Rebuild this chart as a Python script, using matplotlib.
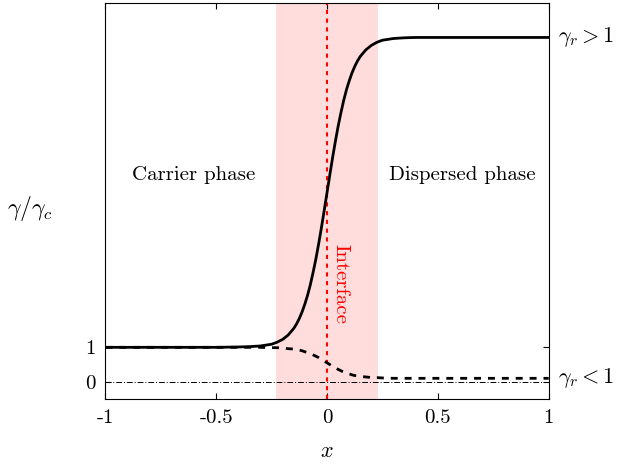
import matplotlib.pyplot as plt

plt.rcParams['font.family'] = 'cmr10'
plt.rcParams['mathtext.fontset'] = 'cm'
plt.rcParams['axes.formatter.use_mathtext'] = True

# profiles (gamma_r = 10 and gamma_r = 0.1)
x = [-1, -0.8, -0.6, -0.5, -0.4, -0.35, -0.3, -0.25, -0.225, -0.2, -0.175,
     -0.15, -0.1375, -0.125, -0.1125, -0.1, -0.0875, -0.075, -0.0625, -0.05,
     -0.0375, -0.025, -0.0125, 0, 0.0125, 0.025, 0.0375, 0.05, 0.0625, 0.075,
     0.0875, 0.1, 0.1125, 0.125, 0.1375, 0.15, 0.175, 0.2, 0.225, 0.25, 0.3,
     0.35, 0.4, 0.5, 0.6, 0.8, 1]
gamma_high = [1, 1, 1, 1, 1.01, 1.02, 1.04, 1.09, 1.15, 1.23, 1.36,
              1.55, 1.68, 1.84, 2.03, 2.26, 2.52, 2.83, 3.19, 3.58,
              4.02, 4.49, 4.99, 5.5, 6.01, 6.51, 6.98, 7.42, 7.81, 8.17,
              8.48, 8.74, 8.97, 9.16, 9.32, 9.45, 9.64, 9.77, 9.86, 9.92, 9.97,
              9.99, 10, 10, 10, 10, 10]
gamma_low = [1, 1, 1, 1, 1.0, 1.0, 1.0, 0.99, 0.99, 0.98, 0.96,
             0.95, 0.93, 0.92, 0.90, 0.87, 0.85, 0.82, 0.78, 0.74,
             0.70, 0.65, 0.60, 0.55, 0.50, 0.45, 0.40, 0.36, 0.32, 0.28,
             0.25, 0.23, 0.20, 0.18, 0.17, 0.15, 0.14, 0.12, 0.12, 0.11, 0.10,
             0.10, 0.10, 0.1, 0.1, 0.1, 0.1]

interface_half = 0.23
xticks = [-1, -0.5, 0, 0.5, 1]
xtick_labels = ['-1', '-0.5', '0', '0.5', '1']
yticks = [0, 1]

fig = plt.figure(figsize=(6.2, 4.65), dpi=100)
ax = fig.add_axes([0.170, 0.142, 0.715, 0.8515])

ax.axvspan(-interface_half, interface_half, color='#ffdddd', lw=0, zorder=0)
ax.axhline(0, color='black', lw=0.7, ls='-.', dashes=(6, 2, 1, 2))
ax.axvline(0, color='red', lw=1.5, ls=(0, (2, 2.2)))
ax.plot(x, gamma_high, color='black', lw=2)
ax.plot(x, gamma_low, color='black', lw=2, ls=(0, (2.5, 2.5)))

ax.set_xlim(-1, 1)
ax.set_ylim(-0.5, 11)
ax.set_xticks(xticks)
ax.set_xticklabels(xtick_labels)
ax.set_yticks(yticks)
ax.set_yticklabels([str(t) for t in yticks])
ax.tick_params(direction='in', top=True, right=True, length=4, labelsize=15, pad=7)

ax.set_xlabel('$x$', fontsize=16, va='center')
ax.xaxis.set_label_coords(0.5, -0.133)
ax.set_ylabel(r'$\gamma/\gamma_c$', fontsize=17, rotation=0, va='center')
ax.yaxis.set_label_coords(-0.17, 0.48)

ax.text(-0.6, 6.0, 'Carrier phase', fontsize=15, ha='center', va='center')
ax.text(0.61, 6.0, 'Dispersed phase', fontsize=15, ha='center', va='center')
ax.text(0.062, 2.85, 'Interface', fontsize=15, color='red', rotation=270,
        ha='center', va='center')
ax.text(1.04, 10, r'$\gamma_r > 1$', fontsize=16, ha='left', va='center')
ax.text(1.04, 0.1, r'$\gamma_r < 1$', fontsize=16, ha='left', va='center')

fig.savefig('out.png', dpi=100)
